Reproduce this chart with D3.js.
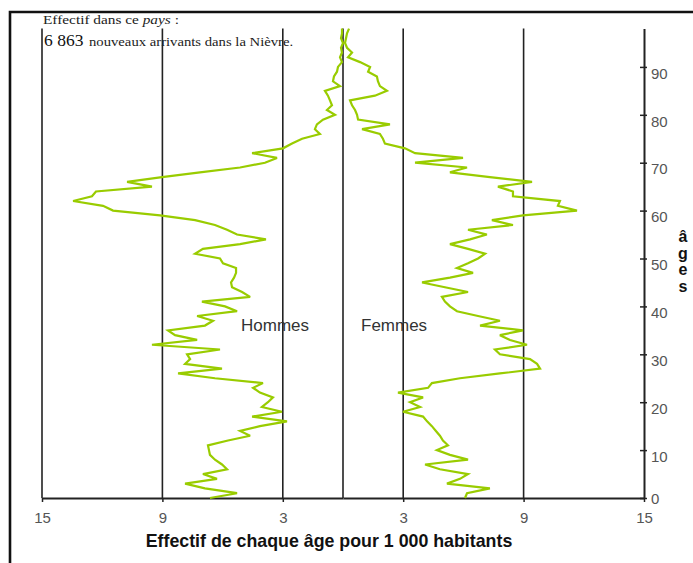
<!DOCTYPE html>
<html><head><meta charset="utf-8">
<script src="https://cdn.jsdelivr.net/npm/d3@7"></script>
<style>body{margin:0;background:#fff;} svg{display:block;}</style>
</head><body>
<svg id="chart" width="693" height="563"></svg>
<script>
// Values per 1 000 inhabitants, index = age (0..98)
const menValues = [
 6.63, 5.28, 6.88, 7.87, 6.28, 6.98, 5.78, 6.03, 6.38, 6.63,
 6.68, 6.73, 5.73, 4.63, 5.13, 4.14, 2.79, 4.53, 3.04, 4.04,
 3.74, 3.49, 4.14, 4.48, 3.99, 6.38, 8.22, 6.03, 7.87, 7.62,
 7.77, 6.13, 9.52, 7.27, 8.37, 8.72, 6.88, 6.48, 7.27, 5.28,
 5.88, 7.03, 4.63, 5.03, 5.53, 5.58, 5.43, 5.33, 5.33, 5.98,
 6.13, 7.37, 6.98, 5.13, 3.84, 5.28, 5.78, 6.38, 7.37, 9.12,
 11.46, 11.96, 13.45, 12.51, 12.31, 9.52, 10.76, 9.02, 7.13, 5.13,
 3.89, 3.29, 4.53, 2.99, 2.54, 2.04, 1.15, 1.40, 1.30, 1.00,
 0.40, 0.80, 0.55, 0.65, 0.75, 0.90, 0.15, 0.50, 0.45, 0.30,
 0.25, 0.05, 0.15, 0.05, 0.10, 0.00, 0.10, 0.05, 0.05
];
const womenValues = [
 6.08, 6.18, 7.32, 5.18, 5.83, 6.23, 4.83, 4.09, 6.23, 5.33,
 4.68, 5.23, 4.98, 4.83, 4.63, 4.43, 4.19, 3.99, 2.99, 3.84,
 3.34, 3.99, 2.74, 4.24, 4.43, 5.83, 7.82, 9.82, 9.67, 9.32,
 7.82, 7.57, 9.17, 8.32, 7.82, 8.97, 6.83, 7.82, 6.73, 5.68,
 5.33, 5.08, 4.93, 6.23, 5.08, 3.94, 5.33, 6.48, 5.68, 6.23,
 6.73, 7.08, 6.23, 5.33, 6.33, 7.17, 6.23, 8.47, 7.42, 8.97,
 11.66, 10.71, 10.81, 8.47, 8.47, 7.72, 9.42, 7.32, 5.33, 6.18,
 3.59, 5.98, 3.59, 3.09, 2.09, 1.99, 1.84, 0.95, 2.34, 0.75,
 0.70, 0.60, 0.45, 0.35, 1.59, 2.19, 1.84, 1.74, 1.69, 1.25,
 1.35, 0.85, 0.25, 0.45, 0.20, 0.10, 0.15, 0.20, 0.30
];
const xTickValues = [15, 9, 3];
const gridValues = [15, 9, 3, 0];
const yTickValues = [0, 10, 20, 30, 40, 50, 60, 70, 80, 90];
const sexLabels = ["Hommes", "Femmes"];
const xTitle = "Effectif de chaque âge pour 1 000 habitants";
const yTitleLetters = ["â", "g", "e", "s"];
const headerIntro = "Effectif dans ce ";
const headerIntroItalic = "pays";
const headerIntroEnd = " :";
const headerCount = "6 863";
const headerRest = "nouveaux arrivants dans la Nièvre.";

const W = 693, H = 563;
const svg = d3.select("#chart");
const maxAge = menValues.length - 1;

const xMen = d3.scaleLinear().domain([0, 15]).range([343, 42]);
const xWomen = d3.scaleLinear().domain([0, 15]).range([343, 644]);
const y = d3.scaleLinear().domain([0, maxAge]).range([498, 28.6]);

// frame
svg.append("path").attr("d", `M10,${H} V12 H${W}`)
  .attr("fill", "none").attr("stroke", "#111").attr("stroke-width", 2.6);

// header texts (drawn beneath gridlines)
const t1 = svg.append("text")
  .attr("transform", "translate(43,24) scale(1.18,1)")
  .attr("font-family", "'Liberation Serif', 'Times New Roman', serif")
  .attr("font-size", 13).attr("fill", "#222");
t1.append("tspan").text(headerIntro);
t1.append("tspan").attr("font-style", "italic").text(headerIntroItalic);
t1.append("tspan").text(headerIntroEnd);

svg.append("text").attr("x", 44).attr("y", 46)
  .attr("font-family", "'Liberation Serif', 'Times New Roman', serif")
  .attr("font-size", 17.5).attr("fill", "#111").text(headerCount);
svg.append("text")
  .attr("transform", "translate(89,46) scale(1.13,1)")
  .attr("font-family", "'Liberation Serif', 'Times New Roman', serif")
  .attr("font-size", 13).attr("fill", "#222").text(headerRest);

// vertical gridlines
const grid = svg.append("g").attr("stroke", "#222").attr("stroke-width", 1.6);
gridValues.forEach(v => {
  grid.append("line").attr("x1", xMen(v)).attr("x2", xMen(v))
    .attr("y1", y(0)).attr("y2", y(maxAge));
});
xTickValues.filter(v => v !== 15).forEach(v => {
  grid.append("line").attr("x1", xWomen(v)).attr("x2", xWomen(v))
    .attr("y1", y(0)).attr("y2", y(maxAge));
});

// bottom axes
function styleX(g) {
  g.select(".domain").attr("stroke", "#222").attr("stroke-width", 2);
  g.selectAll(".tick line").attr("stroke", "#222").attr("stroke-width", 1.5);
  g.selectAll(".tick text").attr("y", 14).attr("fill", "#555")
    .attr("font-family", "'Liberation Sans', Arial, sans-serif").attr("font-size", 15);
}
svg.append("g").attr("transform", `translate(0,${y(0)})`)
  .call(d3.axisBottom(xMen).tickValues(xTickValues).tickSize(4).tickSizeOuter(0))
  .call(styleX);
svg.append("g").attr("transform", `translate(0,${y(0)})`)
  .call(d3.axisBottom(xWomen).tickValues(xTickValues).tickSize(4).tickSizeOuter(0))
  .call(styleX);

// right age axis
const ya = svg.append("g").attr("transform", `translate(${xWomen(15)},0)`)
  .call(d3.axisRight(y).tickValues(yTickValues).tickSize(3).tickSizeOuter(0));
ya.select(".domain").attr("stroke", "#222").attr("stroke-width", 2);
ya.selectAll(".tick line").attr("x1", -4).attr("x2", 3).attr("stroke", "#222").attr("stroke-width", 1.5);
ya.selectAll(".tick text").attr("x", 7)
  .attr("y", d => d === 0 ? 0.5 : 6)
  .attr("dy", "0.35em").attr("fill", "#555")
  .attr("font-family", "'Liberation Sans', Arial, sans-serif").attr("font-size", 15);

// population lines
const lineMen = d3.line().x(d => xMen(d)).y((d, i) => y(i));
const lineWomen = d3.line().x(d => xWomen(d)).y((d, i) => y(i));
svg.append("path").datum(menValues).attr("d", lineMen)
  .attr("fill", "none").attr("stroke", "#99cc00").attr("stroke-width", 2.2)
  .attr("stroke-linejoin", "miter").attr("stroke-miterlimit", 3);
svg.append("path").datum(womenValues).attr("d", lineWomen)
  .attr("fill", "none").attr("stroke", "#99cc00").attr("stroke-width", 2.2)
  .attr("stroke-linejoin", "miter").attr("stroke-miterlimit", 3);

// sex labels
svg.append("text").attr("x", 241).attr("y", 331).text(sexLabels[0])
  .attr("font-family", "'Liberation Sans', Arial, sans-serif").attr("font-size", 17).attr("fill", "#333");
svg.append("text").attr("x", 361).attr("y", 331).text(sexLabels[1])
  .attr("font-family", "'Liberation Sans', Arial, sans-serif").attr("font-size", 17).attr("fill", "#333");

// x title
svg.append("text").attr("x", 329).attr("y", 547).attr("text-anchor", "middle")
  .attr("font-family", "'Liberation Sans', Arial, sans-serif").attr("font-weight", "bold")
  .attr("font-size", 17.8).attr("fill", "#111").text(xTitle);

// y title stacked
const yt = svg.append("text").attr("text-anchor", "middle")
  .attr("font-family", "'Liberation Sans', Arial, sans-serif").attr("font-weight", "bold")
  .attr("font-size", 16).attr("fill", "#111");
yTitleLetters.forEach((c, i) => {
  yt.append("tspan").attr("x", 683).attr("y", 242 + i * 16.7).text(c);
});
</script>
</body></html>
